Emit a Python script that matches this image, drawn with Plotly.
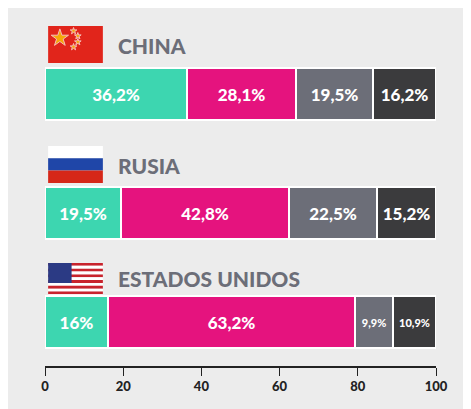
import plotly.graph_objects as go

countries = ["CHINA", "RUSIA", "ESTADOS UNIDOS"]
segment_names = ["A", "B", "C", "D"]
values = [
    [36.2, 19.5, 16.0],
    [28.1, 42.8, 63.2],
    [19.5, 22.5, 9.9],
    [16.2, 15.2, 10.9],
]
colors = ["#3dd6b0", "#e5137e", "#6c6e78", "#3b3b3d"]
tick_vals = [0, 20, 40, 60, 80, 100]

# vertical positions (pixel-like units of the y axis)
bar_y = [86, 205, 313.5]
label_y = [37, 157, 270]


def fmt(v):
    s = ("%.1f" % v).replace(".", ",")
    return s[:-2] if s.endswith(",0") else s


fig = go.Figure()
for i, name in enumerate(segment_names):
    sizes = [11 if v < 12 else 17 for v in values[i]]
    fig.add_trace(go.Bar(
        x=values[i], y=bar_y, orientation="h", name=name,
        marker=dict(color=colors[i], line=dict(color="white", width=2)),
        width=52,
        text=[fmt(v) + "%" for v in values[i]],
        textposition="inside", insidetextanchor="middle",
        textfont=dict(color="white", family="Lato Black, Lato, sans-serif", size=sizes),
        hoverinfo="skip",
    ))

for c, y in zip(countries, label_y):
    fig.add_annotation(x=18.2, y=y, text="<b>" + c + "</b>", showarrow=False,
                       xanchor="left", font=dict(size=21, color="#6c6e78",
                                                 family="Lato Black, Lato, sans-serif"))

shapes = []
# flags (x in data units, y in pixel units)
x0, x1 = 0.8, 14.8
# China
shapes.append(dict(type="rect", x0=x0, x1=x1, y0=18, y1=55, fillcolor="#e1251b", line_width=0))
# Russia
for k, col in enumerate(["#ffffff", "#1f46a8", "#d62718"]):
    shapes.append(dict(type="rect", x0=x0, x1=x1, y0=138 + k * 12.3, y1=138 + (k + 1) * 12.3,
                       fillcolor=col, line_width=0))
# USA
for k in range(13):
    shapes.append(dict(type="rect", x0=x0, x1=x1, y0=255 + k * 2.85, y1=255 + (k + 1) * 2.85,
                       fillcolor="#c8232c" if k % 2 == 0 else "#ffffff", line_width=0))
shapes.append(dict(type="rect", x0=x0, x1=x0 + 6, y0=255, y1=275, fillcolor="#2b3a84", line_width=0))
for s in shapes:
    s.update(xref="x", yref="y", layer="below")

fig.add_trace(go.Scatter(x=[3.8, 7.3, 8.4, 8.4, 7.3], y=[30, 23, 28, 34, 39], mode="markers",
                         marker=dict(symbol="star", color="#ffde00",
                                     size=[13, 5, 5, 5, 5]), hoverinfo="skip"))

fig.update_layout(
    width=471, height=409, barmode="stack", showlegend=False, shapes=shapes,
    margin=dict(l=0, r=0, t=0, b=0, autoexpand=False),
    paper_bgcolor="#ececec", plot_bgcolor="#ececec", bargap=0,
    xaxis=dict(domain=[37 / 471, 428 / 471], range=[0, 100], tickvals=tick_vals,
               showgrid=False, zeroline=False, showline=True, linecolor="#222", linewidth=1.5,
               ticks="outside", ticklen=8, tickcolor="#222", automargin=False,
               tickfont=dict(size=13, color="#222", family="Lato Black, Lato, sans-serif")),
    yaxis=dict(domain=[51 / 409, 1], range=[358, 0], visible=False),
)
fig.write_html("out.html")
